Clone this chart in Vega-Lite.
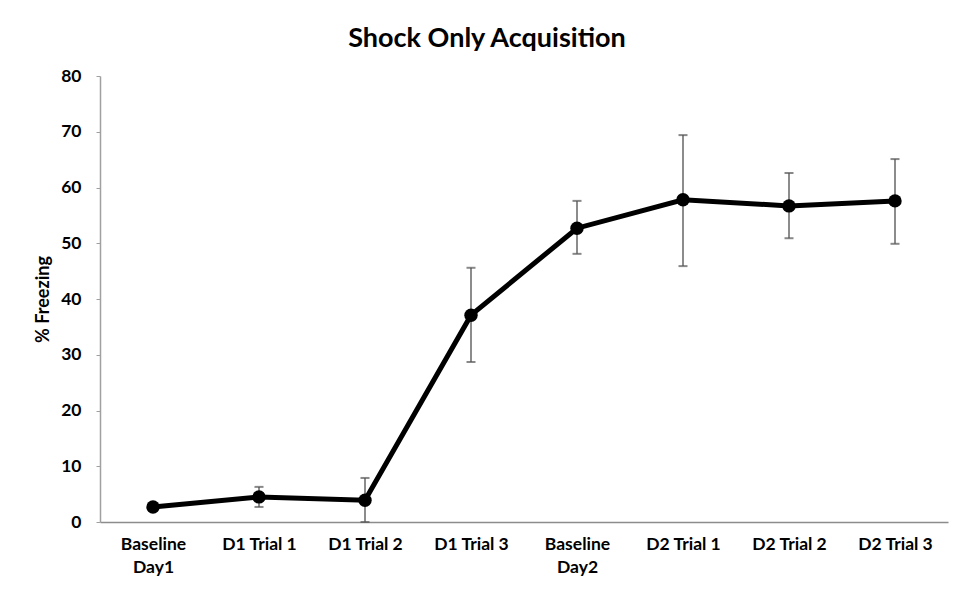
{
  "$schema": "https://vega.github.io/schema/vega-lite/v6.json",
  "width": 848,
  "height": 446,
  "autosize": "none",
  "padding": {"left": 100, "top": 76, "right": 5, "bottom": 68},
  "background": "white",
  "config": {
    "view": {"stroke": null},
    "font": "Lato"
  },
  "title": {
    "text": "Shock Only Acquisition",
    "font": "Lato",
    "fontSize": 27,
    "fontWeight": "bold",
    "color": "#000000",
    "offset": 14,
    "dx": -37
  },
  "data": {
    "values": [
      {"phase": "Baseline Day1", "freezing": 2.7, "lo": 2.2, "hi": 3.2},
      {"phase": "D1 Trial 1", "freezing": 4.5, "lo": 2.7, "hi": 6.3},
      {"phase": "D1 Trial 2", "freezing": 3.9, "lo": 0, "hi": 7.9},
      {"phase": "D1 Trial 3", "freezing": 37.1, "lo": 28.7, "hi": 45.6},
      {"phase": "Baseline Day2", "freezing": 52.7, "lo": 48.1, "hi": 57.6},
      {"phase": "D2 Trial 1", "freezing": 57.8, "lo": 45.9, "hi": 69.4},
      {"phase": "D2 Trial 2", "freezing": 56.7, "lo": 50.9, "hi": 62.6},
      {"phase": "D2 Trial 3", "freezing": 57.6, "lo": 49.9, "hi": 65.1}
    ]
  },
  "encoding": {
    "x": {
      "field": "phase",
      "type": "nominal",
      "sort": null,
      "scale": {"type": "point", "padding": 0.5},
      "axis": {
        "title": null,
        "labelAngle": 0,
        "labelFont": "Lato",
        "labelFontSize": 17.5,
        "labelFontWeight": "bold",
        "labelColor": "#000000",
        "labelPadding": 13,
        "labelLineHeight": 23,
        "labelExpr": "(datum.label == 'Baseline Day1' || datum.label == 'Baseline Day2') ? split(datum.label, ' ') : datum.label",
        "ticks": false,
        "domainColor": "#8c8c8c",
        "domainWidth": 1.5,
        "grid": false
      }
    }
  },
  "layer": [
    {
      "mark": {"type": "rule", "color": "#8c8c8c", "strokeWidth": 2},
      "encoding": {
        "y": {"field": "lo", "type": "quantitative"},
        "y2": {"field": "hi"}
      }
    },
    {
      "mark": {"type": "tick", "color": "#555555", "size": 9, "thickness": 2, "orient": "horizontal"},
      "encoding": {"y": {"field": "hi", "type": "quantitative"}}
    },
    {
      "mark": {"type": "tick", "color": "#555555", "size": 9, "thickness": 2, "orient": "horizontal"},
      "encoding": {"y": {"field": "lo", "type": "quantitative"}}
    },
    {
      "mark": {"type": "line", "color": "#000000", "strokeWidth": 5, "interpolate": "linear"},
      "encoding": {
        "y": {
          "field": "freezing",
          "type": "quantitative",
          "scale": {"domain": [0, 80]},
          "axis": {
            "title": "% Freezing",
            "titleFont": "Lato",
            "titleFontSize": 18,
            "titleFontWeight": "bold",
            "titleColor": "#000000",
            "titlePadding": 8,
            "values": [0, 10, 20, 30, 40, 50, 60, 70, 80],
            "labelFont": "Lato",
            "labelFontSize": 17.5,
            "labelFontWeight": "bold",
            "labelColor": "#000000",
            "labelPadding": 15,
            "tickSize": 4,
            "tickColor": "#a0a0a0",
            "domainColor": "#a0a0a0",
            "domainWidth": 1.5,
            "grid": false
          }
        }
      }
    },
    {
      "mark": {"type": "point", "filled": true, "shape": "circle", "size": 180, "color": "#000000", "opacity": 1},
      "encoding": {"y": {"field": "freezing", "type": "quantitative"}}
    }
  ]
}
